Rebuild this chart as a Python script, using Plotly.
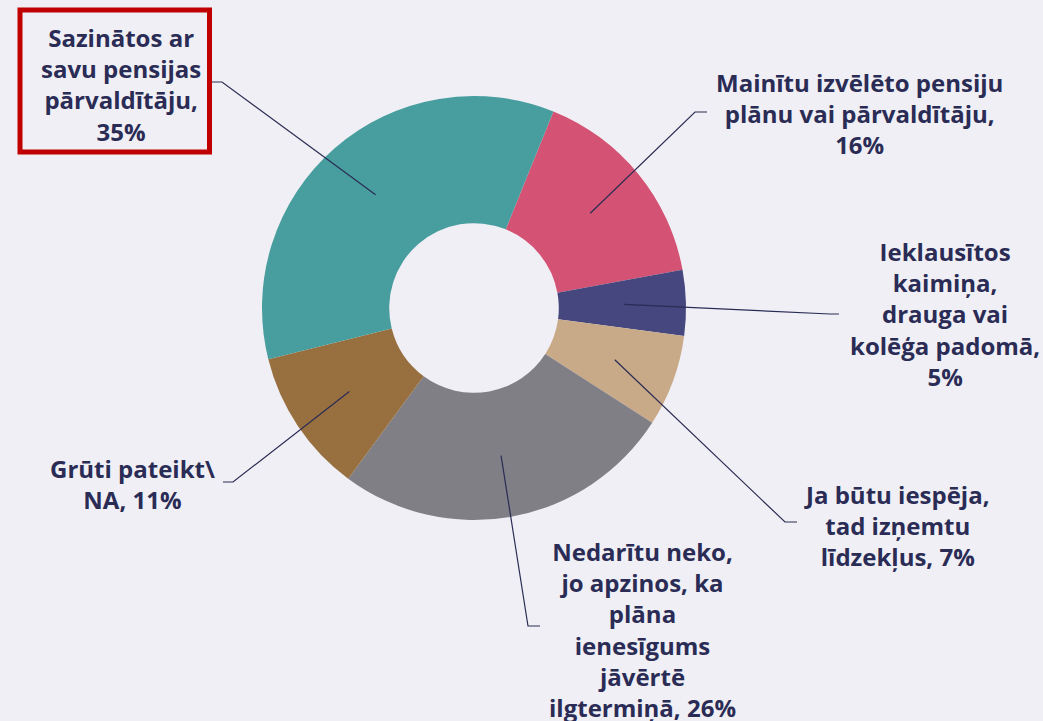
import math
import plotly.graph_objects as go

# Data (clockwise from the top-right slice)
labels = [
    "Mainītu izvēlēto pensiju<br>plānu vai pārvaldītāju,<br>16%",
    "Ieklausītos<br>kaimiņa,<br>drauga vai<br>kolēģa padomā,<br>5%",
    "Ja būtu iespēja,<br>tad izņemtu<br>līdzekļus, 7%",
    "Nedarītu neko,<br>jo apzinos, ka<br>plāna<br>ienesīgums<br>jāvērtē<br>ilgtermiņā, 26%",
    "Grūti pateikt\\<br>NA, 11%",
    "Sazinātos ar<br>savu pensijas<br>pārvaldītāju,<br>35%",
]
values = [16, 5, 7, 26, 11, 35]
colors = ["#d45273", "#46477f", "#c9aa88", "#807f86", "#98703f", "#489e9e"]

# Layout constants (pixels)
W, H = 1043, 721
CX, CY, R = 474, 308, 212
HOLE = 0.4
ROT = 22
ANCHOR_R = 150
BG = "#f0eff5"
TXT = "#2a2c55"

# label centers, elbow and end of leader lines (pixels)
label_pos = [(859, 113), (945, 314), (897, 525), (642, 629), (132, 484), (121, 85)]
elbows = [(695, 112), (830, 314), (785, 522), (528, 626), (233, 482), (222, 82)]
ends = [(707, 112), (839, 314), (797, 522), (540, 626), (223, 482), (212, 82)]


def px(x):
    return x / W


def py(y):
    return 1 - y / H


fig = go.Figure(go.Pie(
    values=values,
    labels=[l.replace("<br>", " ") for l in labels],
    marker=dict(colors=colors, line=dict(width=0)),
    sort=False,
    direction="clockwise",
    rotation=ROT,
    hole=HOLE,
    textinfo="none",
    hoverinfo="label+percent",
    showlegend=False,
    domain=dict(x=[px(CX - R), px(CX + R)], y=[py(CY + R), py(CY - R)]),
))

total = sum(values)
cum = 0
shapes = []
annotations = []
for i, v in enumerate(values):
    mid = math.radians(ROT + (cum + v / 2) / total * 360)
    cum += v
    ax = CX + ANCHOR_R * math.sin(mid)
    ay = CY - ANCHOR_R * math.cos(mid)
    ex, ey = elbows[i]
    tx, ty = ends[i]
    path = f"M {px(ax)} {py(ay)} L {px(ex)} {py(ey)} L {px(tx)} {py(ty)}"
    shapes.append(dict(type="path", xref="paper", yref="paper", path=path,
                       line=dict(color=TXT, width=1.2)))
    lx, ly = label_pos[i]
    annotations.append(dict(
        x=px(lx), y=py(ly), xref="paper", yref="paper",
        text=labels[i], showarrow=False, xanchor="center", yanchor="middle",
        align="center",
        font=dict(family="Open Sans", size=24, color=TXT, weight="bold"),
    ))

# red highlight box around the largest slice label
shapes.append(dict(type="rect", xref="paper", yref="paper",
                   x0=px(20), x1=px(209.5), y0=py(152), y1=py(10),
                   line=dict(color="#c00000", width=5)))

fig.update_layout(
    width=W, height=H,
    margin=dict(l=0, r=0, t=0, b=0),
    paper_bgcolor=BG, plot_bgcolor=BG,
    shapes=shapes, annotations=annotations,
)

fig.write_html(
    "out.html",
    config={"displayModeBar": False},
    post_script="document.body.style.margin='0';document.body.style.overflow='hidden';"
                "document.body.style.background='" + BG + "';",
)
